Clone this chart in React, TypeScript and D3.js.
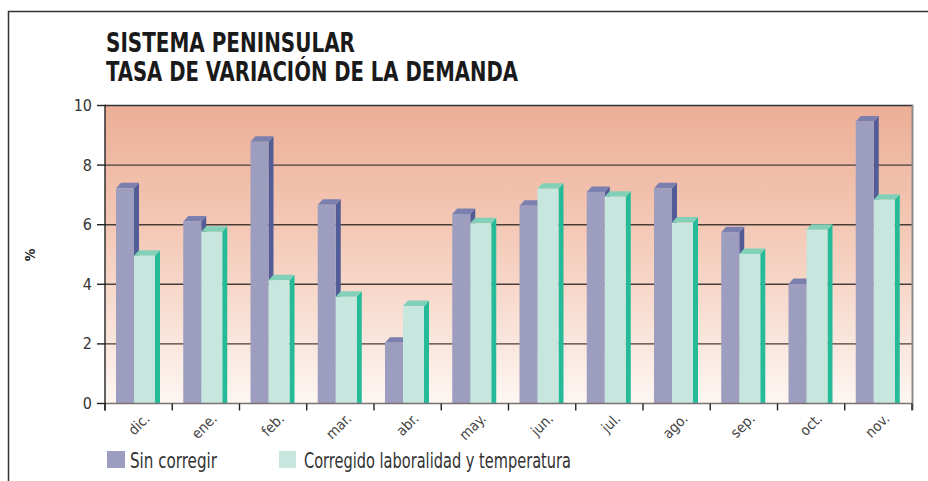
import React from 'react';
import * as d3 from 'd3';

// Datos (%)
const MONTHS = ['dic.', 'ene.', 'feb.', 'mar.', 'abr.', 'may.', 'jun.', 'jul.', 'ago.', 'sep.', 'oct.', 'nov.'];
const SIN_CORREGIR = [7.22, 6.11, 8.78, 6.67, 2.04, 6.36, 6.64, 7.1, 7.22, 5.75, 4.01, 9.46];
const CORREGIDO = [4.96, 5.76, 4.14, 3.58, 3.27, 6.05, 7.21, 6.94, 6.07, 5.02, 5.83, 6.84];
const Y_TICKS = [0, 2, 4, 6, 8, 10];

const W = 928;
const H = 481;
const FONT = '"Liberation Sans Narrow", "DejaVu Sans Condensed", "Arial Narrow", sans-serif';

const PURPLE = { front: '#9d9dbf', side: '#525c96', top: '#7c80ae' };
const GREEN = { front: '#c6e6de', side: '#25bb98', top: '#82d0b8' };

const DX = 5;
const DY = 5.5;

function Bar3D({ x, y, w, base, col }: { x: number; y: number; w: number; base: number; col: typeof PURPLE }) {
  return (
    <g>
      <polygon points={`${x + w},${y} ${x + w + DX},${y - DY} ${x + w + DX},${base} ${x + w},${base}`} fill={col.side} />
      <polygon points={`${x},${y} ${x + DX},${y - DY} ${x + w + DX},${y - DY} ${x + w},${y}`} fill={col.top} />
      <rect x={x} y={y} width={w} height={base - y} fill={col.front} />
    </g>
  );
}

export default function App() {
  const left = 105;
  const right = 912;
  const top = 105.5;
  const bottom = 403.5;

  const x = d3.scaleBand<string>().domain(MONTHS).range([left, right]);
  const y = d3.scaleLinear().domain([0, 10]).range([bottom, top]);
  const bw = x.bandwidth();
  const offP = bw * (11 / 67.25);
  const wP = bw * (18 / 67.25);
  const wG = bw * (21 / 67.25);

  return (
    <svg width={W} height={H} style={{ position: 'absolute', left: 0, top: 0, background: '#fff' }}>
      <defs>
        <linearGradient id="bg" x1="0" y1="0" x2="0" y2="1">
          <stop offset="0%" stopColor="#ecae97" />
          <stop offset="45%" stopColor="#f4cbb9" />
          <stop offset="100%" stopColor="#fdf6f2" />
        </linearGradient>
      </defs>

      {/* marco exterior */}
      <line x1={8} x2={W} y1={11.5} y2={11.5} stroke="#333" strokeWidth={1.5} />
      <line x1={8.5} x2={8.5} y1={11} y2={H} stroke="#333" strokeWidth={1.5} />

      {/* título */}
      <text x={106} y={52} fontFamily={FONT} fontWeight="bold" fontSize={27} fill="#1a1a1a" textLength={249} lengthAdjust="spacingAndGlyphs">
        SISTEMA PENINSULAR
      </text>
      <text x={106} y={81} fontFamily={FONT} fontWeight="bold" fontSize={27} fill="#1a1a1a" textLength={412} lengthAdjust="spacingAndGlyphs">
        TASA DE VARIACIÓN DE LA DEMANDA
      </text>

      {/* área del gráfico */}
      <rect x={left} y={top} width={right - left} height={bottom - top} fill="url(#bg)" />

      {Y_TICKS.filter((t) => t > 0).map((t) => (
        <line key={t} x1={left} x2={right} y1={y(t)} y2={y(t)} stroke={t === 10 ? '#333' : '#4a3c38'} strokeWidth={1.4} />
      ))}

      {/* barras */}
      {MONTHS.map((m, i) => {
        const bx = x(m) as number;
        return (
          <g key={m}>
            <Bar3D x={bx + offP} y={y(SIN_CORREGIR[i])} w={wP} base={bottom} col={PURPLE} />
            <Bar3D x={bx + offP + wP} y={y(CORREGIDO[i])} w={wG} base={bottom} col={GREEN} />
          </g>
        );
      })}

      {/* línea cero y bordes */}
      <line x1={left} x2={right} y1={bottom} y2={bottom} stroke="#7a7272" strokeWidth={1.5} />
      <line x1={right + 0.5} x2={right + 0.5} y1={top - 1} y2={410} stroke="#8c8c8c" strokeWidth={2} />
      <line x1={left} x2={left} y1={top - 0.7} y2={bottom + 7} stroke="#222" strokeWidth={1.4} />

      {/* eje Y */}
      {Y_TICKS.map((t) => (
        <g key={t}>
          <line x1={97} x2={left} y1={y(t)} y2={y(t)} stroke="#222" strokeWidth={1.4} />
          <text x={92} y={y(t) + 5.5} textAnchor="end" fontFamily={FONT} fontSize={16} fill="#333">
            {t}
          </text>
        </g>
      ))}
      <text transform="translate(35,255) rotate(-90)" textAnchor="middle" fontFamily={FONT} fontWeight="bold" fontSize={14} fill="#222">
        %
      </text>

      {/* eje X */}
      {d3.range(MONTHS.length + 1).map((i) => {
        const tx = left + i * bw;
        return <line key={i} x1={tx} x2={tx} y1={bottom} y2={bottom + 7} stroke="#222" strokeWidth={1.4} />;
      })}
      {MONTHS.map((m) => {
        const cx = (x(m) as number) + bw / 2 + 12;
        return (
          <text key={m} transform={`translate(${cx},${bottom + 16}) rotate(-45)`} textAnchor="end" fontFamily={FONT} fontSize={14.5} fill="#444">
            {m}
          </text>
        );
      })}

      {/* leyenda */}
      <rect x={107} y={451} width={18} height={17} fill={PURPLE.front} />
      <text x={130} y={468} fontFamily={FONT} fontSize={21} fill="#333" textLength={87} lengthAdjust="spacingAndGlyphs">
        Sin corregir
      </text>
      <rect x={279} y={451} width={17} height={17} fill={GREEN.front} />
      <text x={304} y={468} fontFamily={FONT} fontSize={21} fill="#333" textLength={267} lengthAdjust="spacingAndGlyphs">
        Corregido laboralidad y temperatura
      </text>
    </svg>
  );
}
